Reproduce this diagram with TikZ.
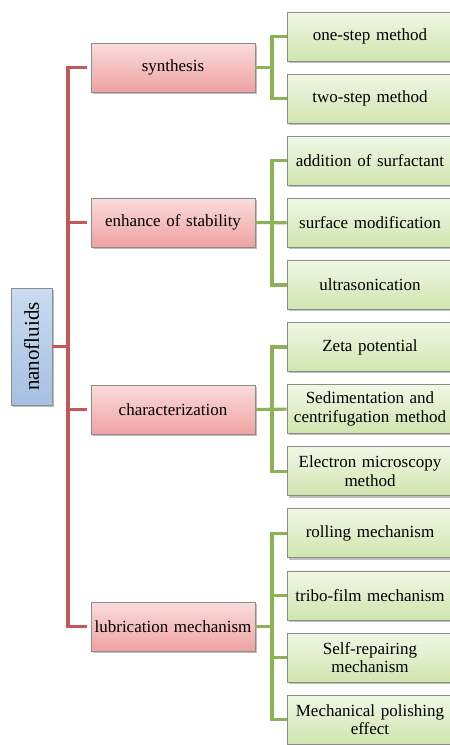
\documentclass[tikz,border=0pt]{standalone}
\usepackage{fontspec}
\setmainfont{Liberation Serif}
\usetikzlibrary{shadows}
\definecolor{rline}{HTML}{C4575A}
\definecolor{gline}{HTML}{8DB255}
\definecolor{boxborder}{HTML}{8C8C8C}
\definecolor{redtop}{HTML}{FADCDC}
\definecolor{redbot}{HTML}{F0A2A2}
\definecolor{grntop}{HTML}{F1F7E6}
\definecolor{grnbot}{HTML}{D0E5AE}
\definecolor{blutop}{HTML}{CADBF1}
\definecolor{blubot}{HTML}{A6C0E2}
\tikzset{
  boxbase/.style={draw=boxborder, line width=0.8pt, inner sep=0pt, align=center,
    font=\fontsize{17}{18.7}\selectfont,
    drop shadow={shadow xshift=1.6pt, shadow yshift=-1.8pt, opacity=0.45, fill=black!55}},
  redbox/.style={boxbase, top color=redtop, bottom color=redbot, minimum width=164pt, minimum height=49pt, text width=162pt},
  grnbox/.style={boxbase, top color=grntop, bottom color=grnbot, minimum width=166pt, minimum height=49pt, text width=162pt},
  blubox/.style={boxbase, top color=blutop, bottom color=blubot, minimum width=41pt, minimum height=117pt, font=\fontsize{21}{24}\selectfont},
  redconn/.style={draw=rline, line width=3.2pt, line join=miter},
  grnconn/.style={draw=gline, line width=3.2pt, line join=miter}
}
\begin{document}
\begin{tikzpicture}[x=1pt,y=-1pt]
\useasboundingbox (0,0) rectangle (450,745);
\fill[white] (0,0) rectangle (450,745);
\coordinate (rx) at (68,0);
\coordinate (gx) at (272,0);

\node[blubox] (nano) at (31.5,346.5) {\rotatebox{90}{nanofluids}};

\node[redbox] (syn) at (173,67.5) {synthesis};
\node[redbox] (enh) at (173,222.5) {enhance of stability};
\node[redbox] (cha) at (173,409.5) {characterization};
\node[redbox] (lub) at (173,626.5) {lubrication mechanism};

\node[grnbox] (g1) at (370,36.5) {one-step method};
\node[grnbox] (g2) at (370,98.6) {two-step method};
\node[grnbox] (g3) at (370,160.7) {addition of surfactant};
\node[grnbox] (g4) at (370,222.8) {surface modification};
\node[grnbox] (g5) at (370,284.9) {ultrasonication};
\node[grnbox] (g6) at (370,347) {Zeta potential};
\node[grnbox] (g7) at (370,409.1) {Sedimentation and\\centrifugation method};
\node[grnbox] (g8) at (370,471.2) {Electron microscopy\\method};
\node[grnbox] (g9) at (370,533.3) {rolling mechanism};
\node[grnbox] (g10) at (370,595.4) {tribo-film mechanism};
\node[grnbox] (g11) at (370,657.5) {Self-repairing\\mechanism};
\node[grnbox] (g12) at (370,719.6) {Mechanical polishing\\effect};

% red tree
\draw[redconn] ([xshift=-4pt]syn.west) -- (syn.west -| rx) -- (lub.west -| rx) -- ([xshift=-4pt]lub.west);
\draw[redconn] ([xshift=-4pt]enh.west) -- (enh.west -| rx);
\draw[redconn] ([xshift=-4pt]cha.west) -- (cha.west -| rx);
\draw[redconn] (nano.east) -- (nano.east -| rx);

% green trees
\draw[grnconn] (syn.east) -- (syn.east -| gx);
\draw[grnconn] (g1.west) -- (g1.west -| gx) -- (g2.west -| gx) -- (g2.west);

\draw[grnconn] (enh.east) -- (g4.west);
\draw[grnconn] (g3.west) -- (g3.west -| gx) -- (g5.west -| gx) -- (g5.west);

\draw[grnconn] (cha.east) -- (g7.west);
\draw[grnconn] (g6.west) -- (g6.west -| gx) -- (g8.west -| gx) -- (g8.west);

\draw[grnconn] (lub.east) -- (lub.east -| gx);
\draw[grnconn] (g9.west) -- (g9.west -| gx) -- (g12.west -| gx) -- (g12.west);
\draw[grnconn] (g10.west) -- (g10.west -| gx);
\draw[grnconn] (g11.west) -- (g11.west -| gx);
\end{tikzpicture}
\end{document}
